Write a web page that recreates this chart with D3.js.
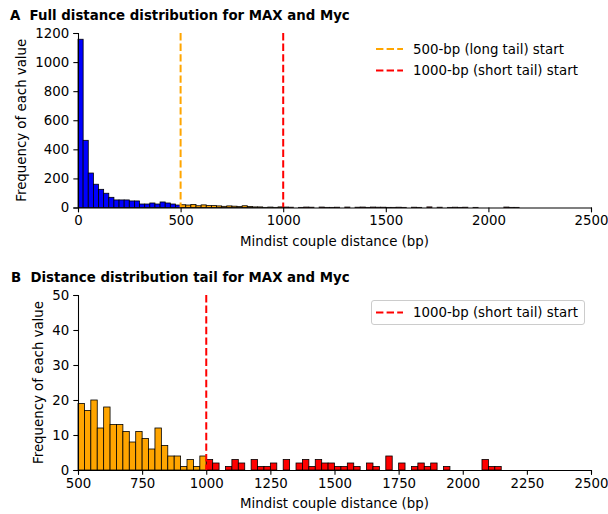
<!DOCTYPE html>
<html>
<head>
<meta charset="utf-8">
<script src="https://cdn.jsdelivr.net/npm/d3@7/dist/d3.min.js"></script>
<style>
  body { margin: 0; background: #fff; }
  text { font-family: "DejaVu Sans", sans-serif; fill: #000; white-space: pre; }
</style>
</head>
<body>
<svg id="chart" width="608" height="514"></svg>
<script>
// Histogram of mindist couple distances, 25-bp bins.
const binWidth = 25;
// counts for bins starting at 0 bp (short range, blue)
const blueCounts = [1157, 462, 237, 160, 125, 98, 70, 52, 52, 52, 45, 45, 24, 24, 31, 24, 38, 31, 24, 17];
// counts for bins starting at 500 bp (long tail, orange)
const orangeCounts = [19, 17, 20, 12, 18, 13, 13, 11, 8, 11, 9, 6, 12, 7, 4, 4, 1, 3, 1, 4];
// counts for bins starting at 1000 bp (short tail, red)
const redCounts = [3, 2, 0, 1, 3, 2, 0, 3, 1, 1, 2, 0, 3, 0, 2, 3, 1, 3, 2, 2,
                   1, 1, 2, 1, 0, 2, 1, 0, 4, 0, 2, 0, 1, 2, 1, 2, 0, 1, 0, 0,
                   0, 0, 0, 3, 1, 1];
const segmentStarts = [0, 500, 1000];
const segmentColors = ["#0000ff", "#ffa500", "#ff0000"];

const xTicksA = [0, 500, 1000, 1500, 2000, 2500];
const yTicksA = [0, 200, 400, 600, 800, 1000, 1200];
const xTicksB = [500, 750, 1000, 1250, 1500, 1750, 2000, 2250, 2500];
const yTicksB = [0, 10, 20, 30, 40, 50];

const markerPositions = [500, 1000];
const markerLabels = ["500-bp (long tail) start", "1000-bp (short tail) start"];
const markerColors = ["#ffa500", "#ff0000"];

const titles = ["A  Full distance distribution for MAX and Myc",
                "B  Distance distribution tail for MAX and Myc"];
const xLabel = "Mindist couple distance (bp)";
const yLabel = "Frequency of each value";

const FONT = 13.33;
const DASH = "7.4,3.2";

// Assemble bins
const bins = [];
[blueCounts, orangeCounts, redCounts].forEach((counts, s) => {
  counts.forEach((c, i) => {
    const x0 = segmentStarts[s] + i * binWidth;
    bins.push({ x0, x1: x0 + binWidth, count: c, color: segmentColors[s] });
  });
});

const svg = d3.select("#chart");

function drawPanel(cfg) {
  const x = d3.scaleLinear().domain(cfg.xDomain).range([cfg.left, cfg.right]);
  const y = d3.scaleLinear().domain(cfg.yDomain).range([cfg.bottom, cfg.top]);
  const g = svg.append("g");

  // bars
  g.append("g").selectAll("rect")
    .data(bins.filter(b => b.count > 0 && b.x0 >= cfg.xDomain[0] && b.x1 <= cfg.xDomain[1]))
    .join("rect")
    .attr("x", d => x(d.x0))
    .attr("width", d => x(d.x1) - x(d.x0))
    .attr("y", d => y(d.count))
    .attr("height", d => y(0) - y(d.count))
    .attr("fill", d => d.color)
    .attr("stroke", "#000")
    .attr("stroke-width", 0.8);

  // vertical marker lines
  cfg.markers.forEach(i => {
    g.append("line")
      .attr("x1", x(markerPositions[i])).attr("x2", x(markerPositions[i]))
      .attr("y1", cfg.top).attr("y2", cfg.bottom)
      .attr("stroke", markerColors[i])
      .attr("stroke-width", 2)
      .attr("stroke-dasharray", DASH);
  });

  // axes
  const xAxis = g.append("g").attr("transform", `translate(0,${cfg.bottom})`)
    .call(d3.axisBottom(x).tickValues(cfg.xTicks).tickFormat(d3.format("d"))
      .tickSizeOuter(0).tickSize(4.67).tickPadding(3.5));
  const yAxis = g.append("g").attr("transform", `translate(${cfg.left},0)`)
    .call(d3.axisLeft(y).tickValues(cfg.yTicks).tickFormat(d3.format("d"))
      .tickSizeOuter(0).tickSize(4.67).tickPadding(4.2));
  [xAxis, yAxis].forEach(a => {
    a.selectAll("path.domain").attr("stroke", "#000").attr("stroke-width", 1.07);
    a.selectAll(".tick line").attr("stroke", "#000").attr("stroke-width", 1.07);
    a.selectAll(".tick text").attr("font-size", FONT).attr("fill", "#000")
      .style("font-family", '"DejaVu Sans", sans-serif');
  });

  // title
  svg.append("text")
    .attr("x", cfg.titleX).attr("y", cfg.titleY)
    .attr("font-size", FONT).attr("font-weight", "bold")
    .text(titles[cfg.index]);

  // axis labels
  svg.append("text")
    .attr("x", (cfg.left + cfg.right) / 2).attr("y", cfg.xLabelY)
    .attr("text-anchor", "middle").attr("dominant-baseline", "central")
    .attr("font-size", FONT)
    .text(xLabel);
  svg.append("text")
    .attr("transform", `translate(${cfg.yLabelX},${(cfg.top + cfg.bottom) / 2}) rotate(-90)`)
    .attr("text-anchor", "middle").attr("dominant-baseline", "central")
    .attr("font-size", FONT)
    .text(yLabel);

  // legend
  const lg = svg.append("g");
  if (cfg.legendFrame) {
    lg.append("rect")
      .attr("x", cfg.legendFrame[0]).attr("y", cfg.legendFrame[1])
      .attr("width", cfg.legendFrame[2]).attr("height", cfg.legendFrame[3])
      .attr("rx", 2.5)
      .attr("fill", "#fff").attr("fill-opacity", 0.8)
      .attr("stroke", "#cccccc").attr("stroke-width", 1);
  }
  cfg.markers.forEach((m, k) => {
    const ly = cfg.legendY + k * 21.5;
    lg.append("line")
      .attr("x1", 376).attr("x2", 403).attr("y1", ly).attr("y2", ly)
      .attr("stroke", markerColors[m]).attr("stroke-width", 2)
      .attr("stroke-dasharray", DASH);
    lg.append("text")
      .attr("x", 413).attr("y", ly)
      .attr("dominant-baseline", "central")
      .attr("font-size", FONT)
      .text(markerLabels[m]);
  });
}

drawPanel({
  index: 0, left: 78, right: 591, top: 33, bottom: 207.5,
  xDomain: [0, 2500], yDomain: [0, 1200], xTicks: xTicksA, yTicks: yTicksA,
  markers: [0, 1], titleX: 10, titleY: 19.5, xLabelY: 241, yLabelX: 21.5,
  legendY: 49, legendFrame: null
});

drawPanel({
  index: 1, left: 78, right: 591, top: 295, bottom: 470,
  xDomain: [500, 2500], yDomain: [0, 50], xTicks: xTicksB, yTicks: yTicksB,
  markers: [1], titleX: 11, titleY: 281.5, xLabelY: 503, yLabelX: 38,
  legendY: 312.5, legendFrame: [371.5, 300.5, 213, 24]
});
</script>
</body>
</html>
